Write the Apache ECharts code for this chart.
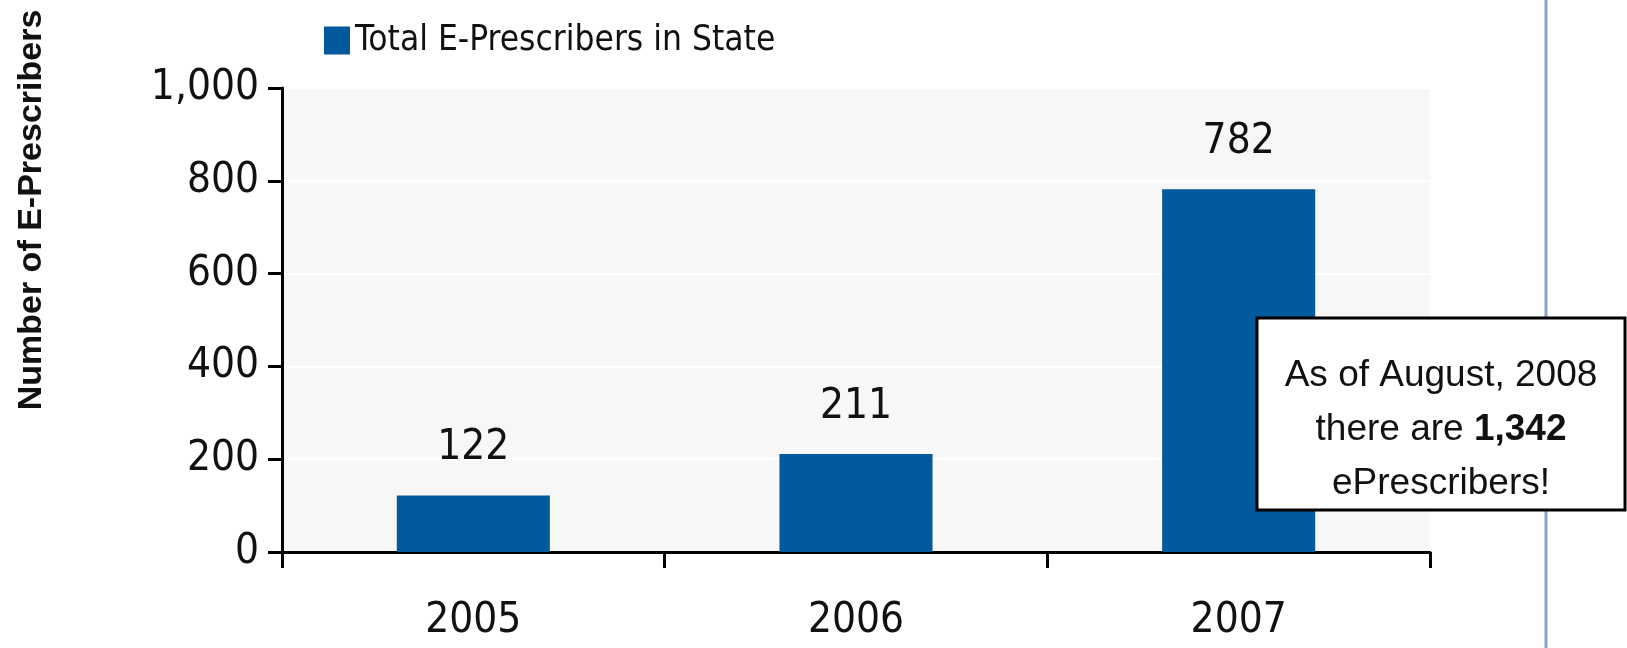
<!DOCTYPE html>
<html>
<head>
<meta charset="utf-8">
<script src="https://cdn.jsdelivr.net/npm/echarts@6/dist/echarts.min.js"></script>
<style>
html,body{margin:0;padding:0;background:#fff;}
#c{width:1627px;height:648px;}
</style>
</head>
<body>
<div id="c"></div>
<script>
const categories = ['2005', '2006', '2007'];
const seriesName = 'Total E-Prescribers in State';
const values = [122, 211, 782];
const yTitle = 'Number of E-Prescribers';
const noteLines = ['As of August, 2008', 'there are ', '1,342', 'ePrescribers!'];

const NARROW = '"Liberation Sans Narrow", "Arial Narrow", "DejaVu Sans Condensed", sans-serif';
const REG = '"Liberation Sans", Arial, sans-serif';

function fmt(v){ return String(v).replace(/\B(?=(\d{3})+(?!\d))/g, ','); }

const chart = echarts.init(document.getElementById('c'));
chart.setOption({
  animation: false,
  backgroundColor: '#ffffff',
  legend: {
    left: 319, top: 18,
    itemWidth: 26, itemHeight: 28, itemGap: 10,
    icon: 'rect',
    textStyle: { fontFamily: NARROW, fontSize: 35, color: '#111', padding: [0,0,0,0] },
    data: [seriesName]
  },
  grid: {
    left: 282, right: 197, top: 88, bottom: 96,
    show: true, backgroundColor: '#f7f7f7', borderWidth: 0
  },
  xAxis: {
    type: 'category',
    data: categories,
    boundaryGap: true,
    axisLine: { lineStyle: { color: '#000', width: 3 } },
    axisTick: { show: true, length: 16, lineStyle: { color: '#000', width: 3 } },
    axisLabel: { fontFamily: NARROW, fontSize: 42, color: '#111', margin: 48 },
    splitLine: { show: false }
  },
  yAxis: {
    type: 'value',
    min: 0, max: 1000, interval: 200,
    axisLine: { show: true, lineStyle: { color: '#000', width: 3 } },
    axisTick: { show: true, length: 14, lineStyle: { color: '#000', width: 3 } },
    axisLabel: { fontFamily: NARROW, fontSize: 42, color: '#111', margin: 23, formatter: fmt },
    splitLine: { show: true, lineStyle: { color: '#ffffff', width: 2 } }
  },
  series: [{
    name: seriesName,
    type: 'bar',
    data: values,
    barWidth: '40%',
    itemStyle: { color: '#02599c' },
    label: {
      show: true, position: 'top', distance: 26,
      fontFamily: NARROW, fontSize: 42, color: '#111',
      formatter: p => fmt(p.value)
    }
  }],
  graphic: [
    {
      type: 'text',
      x: 32, y: 210,
      rotation: Math.PI / 2,
      z: 50,
      style: {
        text: yTitle,
        fontFamily: REG, fontSize: 34, fontWeight: 'bold', fill: '#111',
        align: 'center', verticalAlign: 'middle'
      }
    },
    {
      type: 'line', z: 1,
      shape: { x1: 1546, y1: 0, x2: 1546, y2: 648 },
      style: { stroke: '#87a3c5', lineWidth: 3 }
    },
    {
      type: 'rect', z: 200,
      shape: { x: 1257, y: 318, width: 368, height: 192 },
      style: { fill: '#ffffff', stroke: '#000', lineWidth: 3 }
    },
    {
      type: 'text', z: 201,
      x: 1441, y: 430,
      style: {
        text: '{n|' + noteLines[0] + '}\n{n|' + noteLines[1] + '}{b|' + noteLines[2] + '}\n{n|' + noteLines[3] + '}',
        align: 'center', verticalAlign: 'middle',
        rich: {
          n: { fontFamily: REG, fontSize: 37, lineHeight: 54, fill: '#111', color: '#111' },
          b: { fontFamily: REG, fontSize: 37, lineHeight: 54, fontWeight: 'bold', fill: '#111', color: '#111' }
        }
      }
    }
  ]
});
</script>
</body>
</html>
